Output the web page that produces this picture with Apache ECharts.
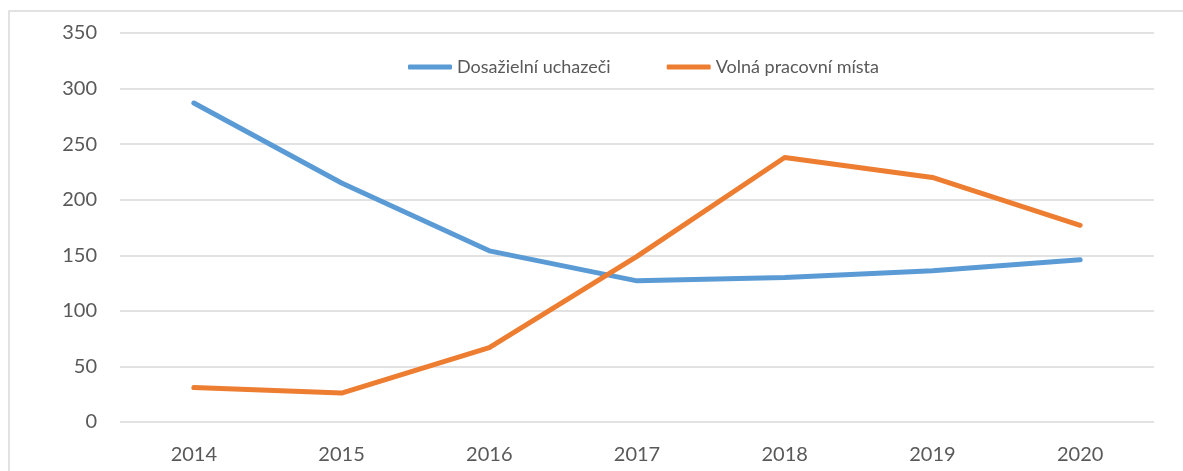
<!DOCTYPE html>
<html>
<head>
  <meta charset="utf-8">
  <script src="https://cdn.jsdelivr.net/npm/echarts@6/dist/echarts.min.js"></script>
  <style>
    html, body { margin: 0; padding: 0; background: #fff; }
  </style>
</head>
<body>
  <div id="chart" style="width: 1183px;height:471px;"></div>
  <script>
    const years = ['2014', '2015', '2016', '2017', '2018', '2019', '2020'];
    const uchazeci = [287, 215, 154, 127, 130, 136, 146];
    const mista = [31, 26, 67, 149, 238, 220, 177];

    let myChart = echarts.init(document.getElementById('chart'));
    let font = 'Lato, "Noto Sans", sans-serif';
    let option = {
      animation: false,
      graphic: [{
        type: 'rect',
        shape: { x: 9, y: 11, width: 1300, height: 600 },
        style: { fill: 'none', stroke: '#d9d9d9', lineWidth: 1.5 },
        silent: true
      }],
      legend: {
        left: 403,
        top: 53,
        itemWidth: 44,
        itemHeight: 5,
        itemGap: 56,
        itemStyle: { borderWidth: 0 },
        icon: 'roundRect',
        textStyle: { color: '#595959', fontSize: 18, fontFamily: font },
        data: ['Dosažielní uchazeči', 'Volná pracovní místa']
      },
      grid: {
        left: 120,
        right: 29,
        top: 33,
        bottom: 49,
        containLabel: false
      },
      xAxis: {
        type: 'category',
        boundaryGap: true,
        data: years,
        axisLine: { show: false },
        axisTick: { show: false },
        axisLabel: { color: '#595959', fontSize: 20, fontFamily: font, margin: 23 }
      },
      yAxis: {
        type: 'value',
        min: 0,
        max: 350,
        interval: 50,
        axisLine: { show: false },
        axisTick: { show: false },
        axisLabel: { color: '#595959', fontSize: 20, fontFamily: font, margin: 23 },
        splitLine: { lineStyle: { color: '#d9d9d9', width: 1.5 } }
      },
      series: [{
        name: 'Dosažielní uchazeči',
        type: 'line',
        data: uchazeci,
        symbol: 'none',
        itemStyle: { color: '#5b9bd5' },
        lineStyle: { color: '#5b9bd5', width: 5, cap: 'round', join: 'round' }
      }, {
        name: 'Volná pracovní místa',
        type: 'line',
        data: mista,
        symbol: 'none',
        itemStyle: { color: '#ed7d31' },
        lineStyle: { color: '#ed7d31', width: 5, cap: 'round', join: 'round' }
      }]
    };
    myChart.setOption(option);
  </script>
</body>
</html>
